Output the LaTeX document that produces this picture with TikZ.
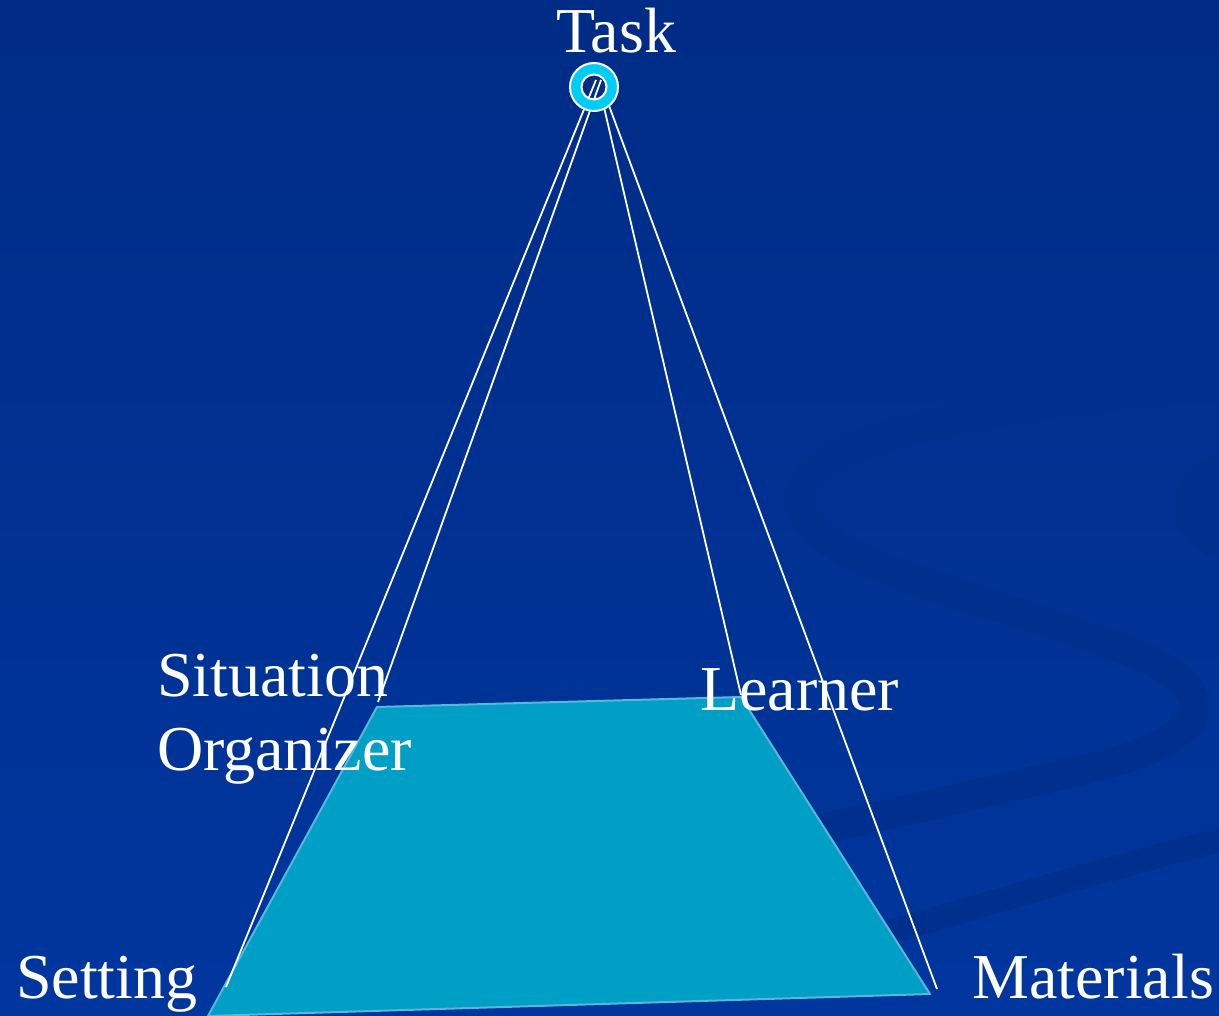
\documentclass[tikz,border=0pt]{standalone}
\usepackage{fontspec}
\setmainfont{Liberation Serif}
\definecolor{bgtop}{HTML}{002C86}
\definecolor{bgbot}{HTML}{00369E}
\definecolor{swirl}{HTML}{00308E}
\definecolor{trapfill}{HTML}{009FC6}
\definecolor{trapedge}{HTML}{5AB7D9}
\definecolor{ringcyan}{HTML}{00CCF5}
\tikzset{
  lbl/.style={text=white, anchor=base west, inner sep=0pt, font=\fontsize{64}{74}\selectfont},
  ray/.style={draw=white, line width=1.8pt},
}
\begin{document}
\begin{tikzpicture}[x=1pt,y=-1pt]
\useasboundingbox (0,0) rectangle (1219,1016);
\shade[top color=bgtop, bottom color=bgbot] (0,0) rectangle (1219,1016);
% subtle background swirl
\begin{scope}
\clip (0,0) rectangle (1219,1016);
\draw[swirl, line width=30pt, line cap=round]
  (1240,382) .. controls (1000,405) and (790,435) .. (800,505)
  .. controls (815,570) and (1010,600) .. (1150,660)
  .. controls (1230,700) and (1200,745) .. (1080,770)
  .. controls (980,795) and (880,815) .. (820,830);
\draw[swirl, line width=24pt] (880,935) .. controls (1000,900) and (1120,865) .. (1240,835);
\fill[swirl] (1219,455) .. controls (1160,470) and (1160,540) .. (1219,560) -- cycle;
\end{scope}
% base trapezoid
\coordinate (SO) at (377,707);
\coordinate (LE) at (741,697);
\coordinate (MA) at (930,994);
\coordinate (SE) at (208,1016);
\filldraw[fill=trapfill, draw=trapedge, line width=2pt, line join=round] (SO) -- (LE) -- (MA) -- (SE) -- cycle;
% apex
\coordinate (task) at (594,87);
\coordinate (s1) at (596,80);
\coordinate (s2) at (601,80);
\coordinate (s3) at (603,103);
\coordinate (s4) at (608,103);
\coordinate (e1) at (226,987);
\coordinate (e2) at (378,702);
\coordinate (e3) at (741,695);
\coordinate (e4) at (937,989);
\draw[ray] (s1) -- (e1);
\draw[ray] (s2) -- (e2);
\draw[ray] (s3) -- (e3);
\draw[ray] (s4) -- (e4);
\fill[ringcyan, even odd rule] (task) circle (24) circle (12.5);
\draw[white, line width=2pt] (task) circle (24);
\draw[white, line width=2pt] (task) circle (12.5);
% labels
\node[lbl] (tTask) at (556,53) {Task};
\node[lbl] (tSit) at (157,696) {Situation};
\node[lbl] (tOrg) at (157,770) {Organizer};
\node[lbl] (tLearn) at (700,710) {Learner};
\node[lbl] (tSet) at (16,998) {Setting};
\node[lbl] (tMat) at (972,998) {Materials};
\end{tikzpicture}
\end{document}
